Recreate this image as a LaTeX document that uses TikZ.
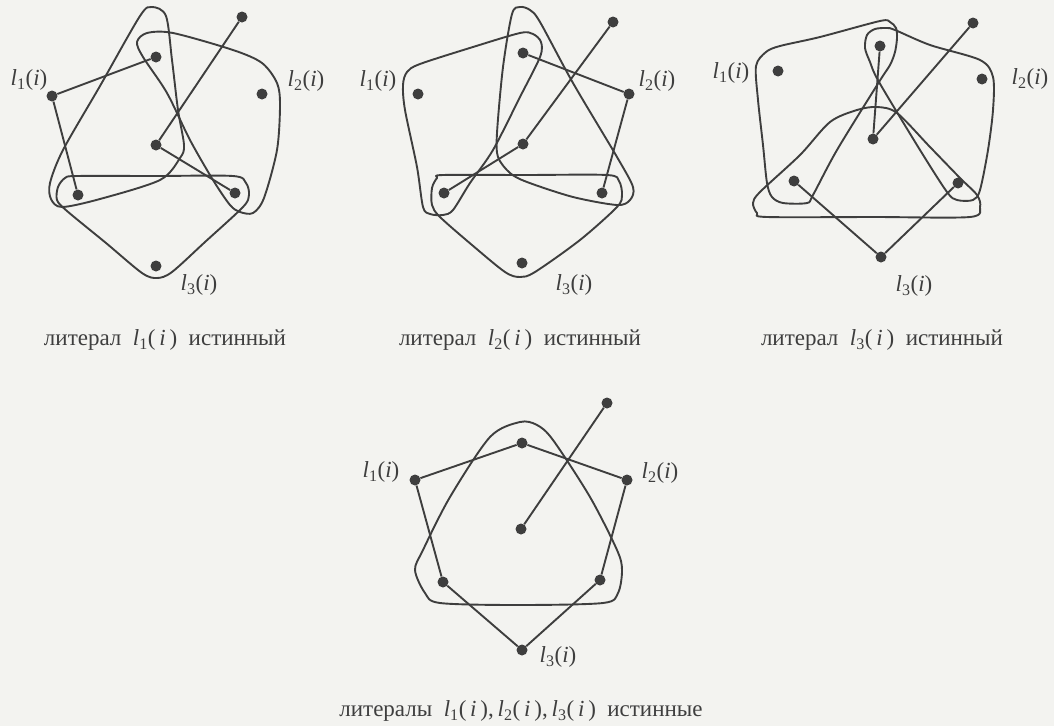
\documentclass[tikz,border=0pt]{standalone}
\usepackage{fontspec}
\setmainfont{Liberation Serif}
\definecolor{bg}{RGB}{243,243,240}
\definecolor{ink}{RGB}{62,62,62}
\newcommand\lbl[1]{\textit{l}\textsubscript{#1}(\textit{i})}
\newcommand\clbl[1]{\textit{l}\textsubscript{#1}(\,\textit{i}\,)}
\begin{document}
\begin{tikzpicture}[x=1pt,y=-1pt,
  dot/.style={circle,fill=ink,inner sep=0pt,minimum size=11pt},
  edge/.style={draw=ink,line width=1.9pt},
  loopline/.style={draw=ink,line width=1.9pt,line join=round},
  lab/.style={text=ink,font=\fontsize{23}{26}\selectfont,inner sep=0pt},
  captext/.style={text=ink,font=\fontsize{23}{26}\selectfont,inner sep=0pt}]
\fill[bg] (0,0) rectangle (1054,726);
\useasboundingbox (0,0) rectangle (1054,726);

% ---------- Diagram 1 : l1 true ----------
\draw[loopline] plot[smooth cycle,tension=0.5] coordinates {(152,7) (166,16) (172,60) (178,110) (184,145) (180,158) (160,180) (100,199) (62,207) (51,199) (50,183) (63,150) (100,86) (140,16)};
\draw[loopline] plot[smooth cycle,tension=0.5] coordinates {(137,42) (147,33) (173,33) (233,50) (262,63) (277,83) (280,105) (277,150) (264,198) (253,213) (240,212) (230,205) (213,180) (190,140) (167,93) (143,57)};
\draw[loopline] plot[smooth cycle,tension=0.5] coordinates {(77,176) (155,176) (233,176) (246,183) (249,195) (243,207) (205,242) (172,272) (157,278) (142,273) (106,243) (67,211) (57,200) (58,187) (65,178)};
\node[dot] (pa) at (242,17) {};
\node[dot] (ta) at (156,57) {};
\node[dot] (x1a) at (52,96) {};
\node[dot] (x2a) at (262,94) {};
\node[dot] (ca) at (156,145) {};
\node[dot] (bla) at (78,195) {};
\node[dot] (bra) at (235,193) {};
\node[dot] (x3a) at (156,266) {};
\draw[edge] (x1a) -- (ta);
\draw[edge] (x1a) -- (bla);
\draw[edge] (ca) -- (pa);
\draw[edge] (ca) -- (bra);
\node[lab] (l1a) at (29,80) {\lbl{1}};
\node[lab] (l2a) at (306,81) {\lbl{2}};
\node[lab] (l3a) at (199,285) {\lbl{3}};
\node[captext] (capa) at (165,340) {литерал\hspace{0.5em}\clbl{1}\hspace{0.5em}истинный};

% ---------- Diagram 2 : l2 true ----------
\draw[loopline] plot[smooth cycle,tension=0.5] coordinates {(403,85) (407,72) (420,64) (473,47) (520,33) (533,34) (541,42) (540,57) (520,97) (493,150) (470,183) (453,210) (443,215) (430,214) (423,207) (417,167) (405,110)};
\draw[loopline] plot[smooth cycle,tension=0.5] coordinates {(520,7) (530,10) (540,22) (573,83) (617,157) (633,187) (630,200) (617,205) (573,197) (527,182) (510,173) (498,157) (497,133) (503,67) (512,14)};
\draw[loopline] plot[smooth cycle,tension=0.5] coordinates {(443,175) (525,175) (607,175) (619,181) (622,195) (617,207) (580,240) (535,272) (520,277) (505,272) (472,245) (440,217) (432,205) (432,188) (437,178)};
\node[dot] (pb) at (613,22) {};
\node[dot] (tb) at (523,53) {};
\node[dot] (x1b) at (418,94) {};
\node[dot] (x2b) at (629,94) {};
\node[dot] (cb) at (523,144) {};
\node[dot] (blb) at (444,193) {};
\node[dot] (brb) at (602,193) {};
\node[dot] (x3b) at (522,263) {};
\draw[edge] (tb) -- (x2b);
\draw[edge] (x2b) -- (brb);
\draw[edge] (cb) -- (pb);
\draw[edge] (cb) -- (blb);
\node[lab] (l1b) at (378,81) {\lbl{1}};
\node[lab] (l2b) at (657,81) {\lbl{2}};
\node[lab] (l3b) at (574,285) {\lbl{3}};
\node[captext] (capb) at (520,340) {литерал\hspace{0.5em}\clbl{2}\hspace{0.5em}истинный};

% ---------- Diagram 3 : l3 true ----------
\draw[loopline] plot[smooth cycle,tension=0.5] coordinates {(756,66) (766,52) (780,46) (820,37) (880,21) (890,22) (896,28) (897,38) (895,52) (890,65) (879,82) (837,150) (813,195) (807,203) (783,203) (772,197) (767,183) (763,145) (758,100)};
\draw[loopline] plot[smooth cycle,tension=0.5] coordinates {(865,48) (867,35) (875,29) (887,28) (895,30) (930,45) (980,60) (993,77) (993,110) (988,150) (980,190) (973,200) (957,200) (947,192) (920,150) (879,82) (870,62)};
\draw[loopline] plot[smooth cycle,tension=0.5] coordinates {(857,110) (877,107) (897,113) (930,147) (960,178) (977,195) (980,207) (970,217) (875,217) (767,217) (757,213) (753,203) (760,192) (800,155) (830,122)};
\node[dot] (pc) at (973,23) {};
\node[dot] (tc) at (880,46) {};
\node[dot] (x1c) at (778,71) {};
\node[dot] (x2c) at (982,79) {};
\node[dot] (cc) at (873,139) {};
\node[dot] (blc) at (794,181) {};
\node[dot] (brc) at (958,183) {};
\node[dot] (x3c) at (881,257) {};
\draw[edge] (tc) -- (cc);
\draw[edge] (cc) -- (pc);
\draw[edge] (blc) -- (x3c);
\draw[edge] (brc) -- (x3c);
\node[lab] (l1c) at (731,73) {\lbl{1}};
\node[lab] (l2c) at (1030,79) {\lbl{2}};
\node[lab] (l3c) at (914,286) {\lbl{3}};
\node[captext] (capc) at (882,340) {литерал\hspace{0.5em}\clbl{3}\hspace{0.5em}истинный};

% ---------- Diagram 4 : all true ----------
\draw[loopline] plot[smooth cycle,tension=0.5] coordinates {(520,422) (537,425) (553,440) (590,497) (617,550) (622,570) (618,593) (603,603) (517,605) (440,603) (425,593) (415,570) (423,550) (450,497) (490,437)};
\node[dot] (pd) at (607,403) {};
\node[dot] (td) at (522,443) {};
\node[dot] (x1d) at (415,480) {};
\node[dot] (x2d) at (627,480) {};
\node[dot] (cd) at (521,529) {};
\node[dot] (bld) at (443,582) {};
\node[dot] (brd) at (600,580) {};
\node[dot] (x3d) at (522,650) {};
\draw[edge] (x1d) -- (td);
\draw[edge] (td) -- (x2d);
\draw[edge] (x1d) -- (bld);
\draw[edge] (x2d) -- (brd);
\draw[edge] (bld) -- (x3d);
\draw[edge] (brd) -- (x3d);
\draw[edge] (cd) -- (pd);
\node[lab] (l1d) at (381,472) {\lbl{1}};
\node[lab] (l2d) at (660,473) {\lbl{2}};
\node[lab] (l3d) at (558,657) {\lbl{3}};
\node[captext] (capd) at (521,711) {литералы\hspace{0.5em}\clbl{1},\,\clbl{2},\,\clbl{3}\hspace{0.5em}истинные};
\end{tikzpicture}
\end{document}
